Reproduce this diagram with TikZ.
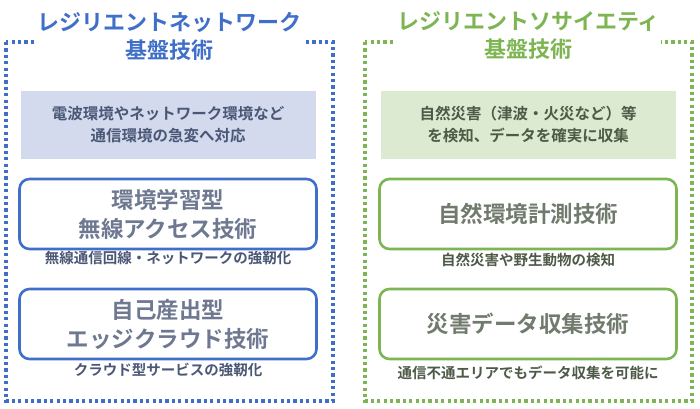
\documentclass[tikz,border=0pt]{standalone}
\usepackage{fontspec}
\setmainfont{Noto Sans CJK JP Bold}
\usetikzlibrary{positioning}
\definecolor{netblue}{HTML}{3F6FC8}
\definecolor{netfill}{HTML}{D3DAEE}
\definecolor{netgray}{HTML}{4A5876}
\definecolor{socgreen}{HTML}{7DB553}
\definecolor{socfill}{HTML}{DCEAD1}
\definecolor{socgray}{HTML}{4E5A48}
\begin{document}
\begin{tikzpicture}[x=1pt, y=-1pt,
        % styles
        panel/.style = {
                draw=#1, line width=3.5pt, dash pattern=on 3.2pt off 3.2pt
            },
        title/.style = {
                fill=white, inner sep=1pt, text=#1, align=center,
                font=\fontsize{22}{28}\selectfont
            },
        summary/.style = {
                fill=#1, minimum width=295pt, minimum height=68pt,
                align=center, font=\fontsize{15.5}{22}\selectfont
            },
        tech/.style = {
                draw=#1, line width=2.6pt, rounded corners=10pt,
                minimum width=297pt, minimum height=70pt,
                align=center, font=\fontsize{22.5}{29}\selectfont
            },
        caption/.style = {
                fill=white, inner sep=1pt, font=\fontsize{14.5}{16}\selectfont
            }]
    \useasboundingbox (0,0) rectangle (700,408);

    % left panel
    \draw [panel=netblue] (6,42) rectangle (333,401);
    \node (net_title) [title=netblue] at (169.5,36) {レジリエントネットワーク\\基盤技術};
    \node (net_sum) [summary=netfill, text=netgray] at (168,125) {電波環境やネットワーク環境など\\通信環境の急変へ対応};
    \node (net_wireless) [tech=netblue, text=netgray!80] at (168,214) {環境学習型\\無線アクセス技術};
    \node (net_wireless_cap) [caption, text=netgray, below=0pt of net_wireless] {無線通信回線・ネットワークの強靭化};
    \node (net_edge) [tech=netblue, text=netgray!80] at (168,324) {自己産出型\\エッジクラウド技術};
    \node (net_edge_cap) [caption, text=netgray, below=2pt of net_edge] {クラウド型サービスの強靭化};

    % right panel
    \draw [panel=socgreen] (365,42) rectangle (692,401);
    \node (soc_title) [title=socgreen] at (528.5,36) {レジリエントソサイエティ\\基盤技術};
    \node (soc_sum) [summary=socfill, text=socgray] at (528,125) {自然災害（津波・火災など）等\\を検知、データを確実に収集};
    \node (soc_sense) [tech=socgreen, text=socgray!80] at (528,214) {自然環境計測技術};
    \node (soc_sense_cap) [caption, text=socgray, below=2pt of soc_sense] {自然災害や野生動物の検知};
    \node (soc_data) [tech=socgreen, text=socgray!80] at (528,324) {災害データ収集技術};
    \node (soc_data_cap) [caption, text=socgray, below=4pt of soc_data] {通信不通エリアでもデータ収集を可能に};
\end{tikzpicture}
\end{document}
